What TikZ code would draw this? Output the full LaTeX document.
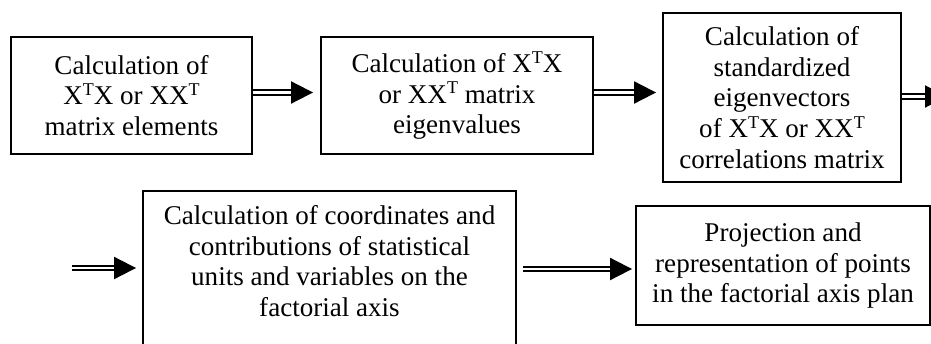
\documentclass[tikz,border=0pt]{standalone}
\usepackage{fontspec}
\setmainfont{Liberation Serif}
\usetikzlibrary{arrows.meta,calc}
\newcommand{\sT}{\raisebox{6.8pt}{\fontsize{13.5pt}{13.5pt}\selectfont T}}
\begin{document}
\begin{tikzpicture}[x=0.75pt,y=-0.75pt,
  box/.style={draw,line width=1.4pt,inner sep=0pt,align=center,
    font=\fontsize{20.3pt}{23pt}\selectfont},
  txt/.style={inner sep=0pt,align=center,font=\fontsize{20.3pt}{23pt}\selectfont},
  conn/.style={line width=1.5pt,double,double distance=1.8pt,
    -{Triangle[length=16.5pt,width=16.5pt]}}
]
\useasboundingbox (0,0) rectangle (931,343);
\node[box,minimum width=180.75pt,minimum height=87.75pt] (b1) at (131.5,95.5)
  {Calculation of\\X\sT X or XX\sT\\matrix elements};
\node[box,minimum width=204pt,minimum height=87.75pt] (b2) at (457,95.5)
  {Calculation of X\sT X\\or XX\sT\ matrix\\eigenvalues};
\node[box,minimum width=178.5pt,minimum height=126.75pt] (b3) at (782,97.5)
  {Calculation of\\standardized\\eigenvectors\\of X\sT X or XX\sT\\correlations matrix};
\node[box,minimum width=279.75pt,minimum height=156.75pt] (b4) at (329.5,295.5) {};
\node[txt] (b4t) at (329.5,261)
  {Calculation of coordinates and\\contributions of statistical\\units and variables on the\\factorial axis};
\node[box,minimum width=220.5pt,minimum height=89.25pt] (b5) at (783,265.5)
  {Projection and\\representation of points\\in the factorial axis plan};
\coordinate (e3) at (947,96.5);
\coordinate (s4) at (72,268);
\draw[conn] ($(b1.east)+(0,-3)$) -- ($(b2.west)+(-7,-3)$);
\draw[conn] ($(b2.east)+(0,-3)$) -- ($(b3.west |- b2.east)+(-6,-3)$);
\draw[conn] ($(b3.east)+(0,-1)$) -- (e3);
\draw[conn] (s4) -- ($(b4.west |- s4)+(-6,0)$);
\draw[conn] ($(b4.east |- b5.west)+(6,3.5)$) -- ($(b5.west)+(-3,3.5)$);
\end{tikzpicture}
\end{document}
